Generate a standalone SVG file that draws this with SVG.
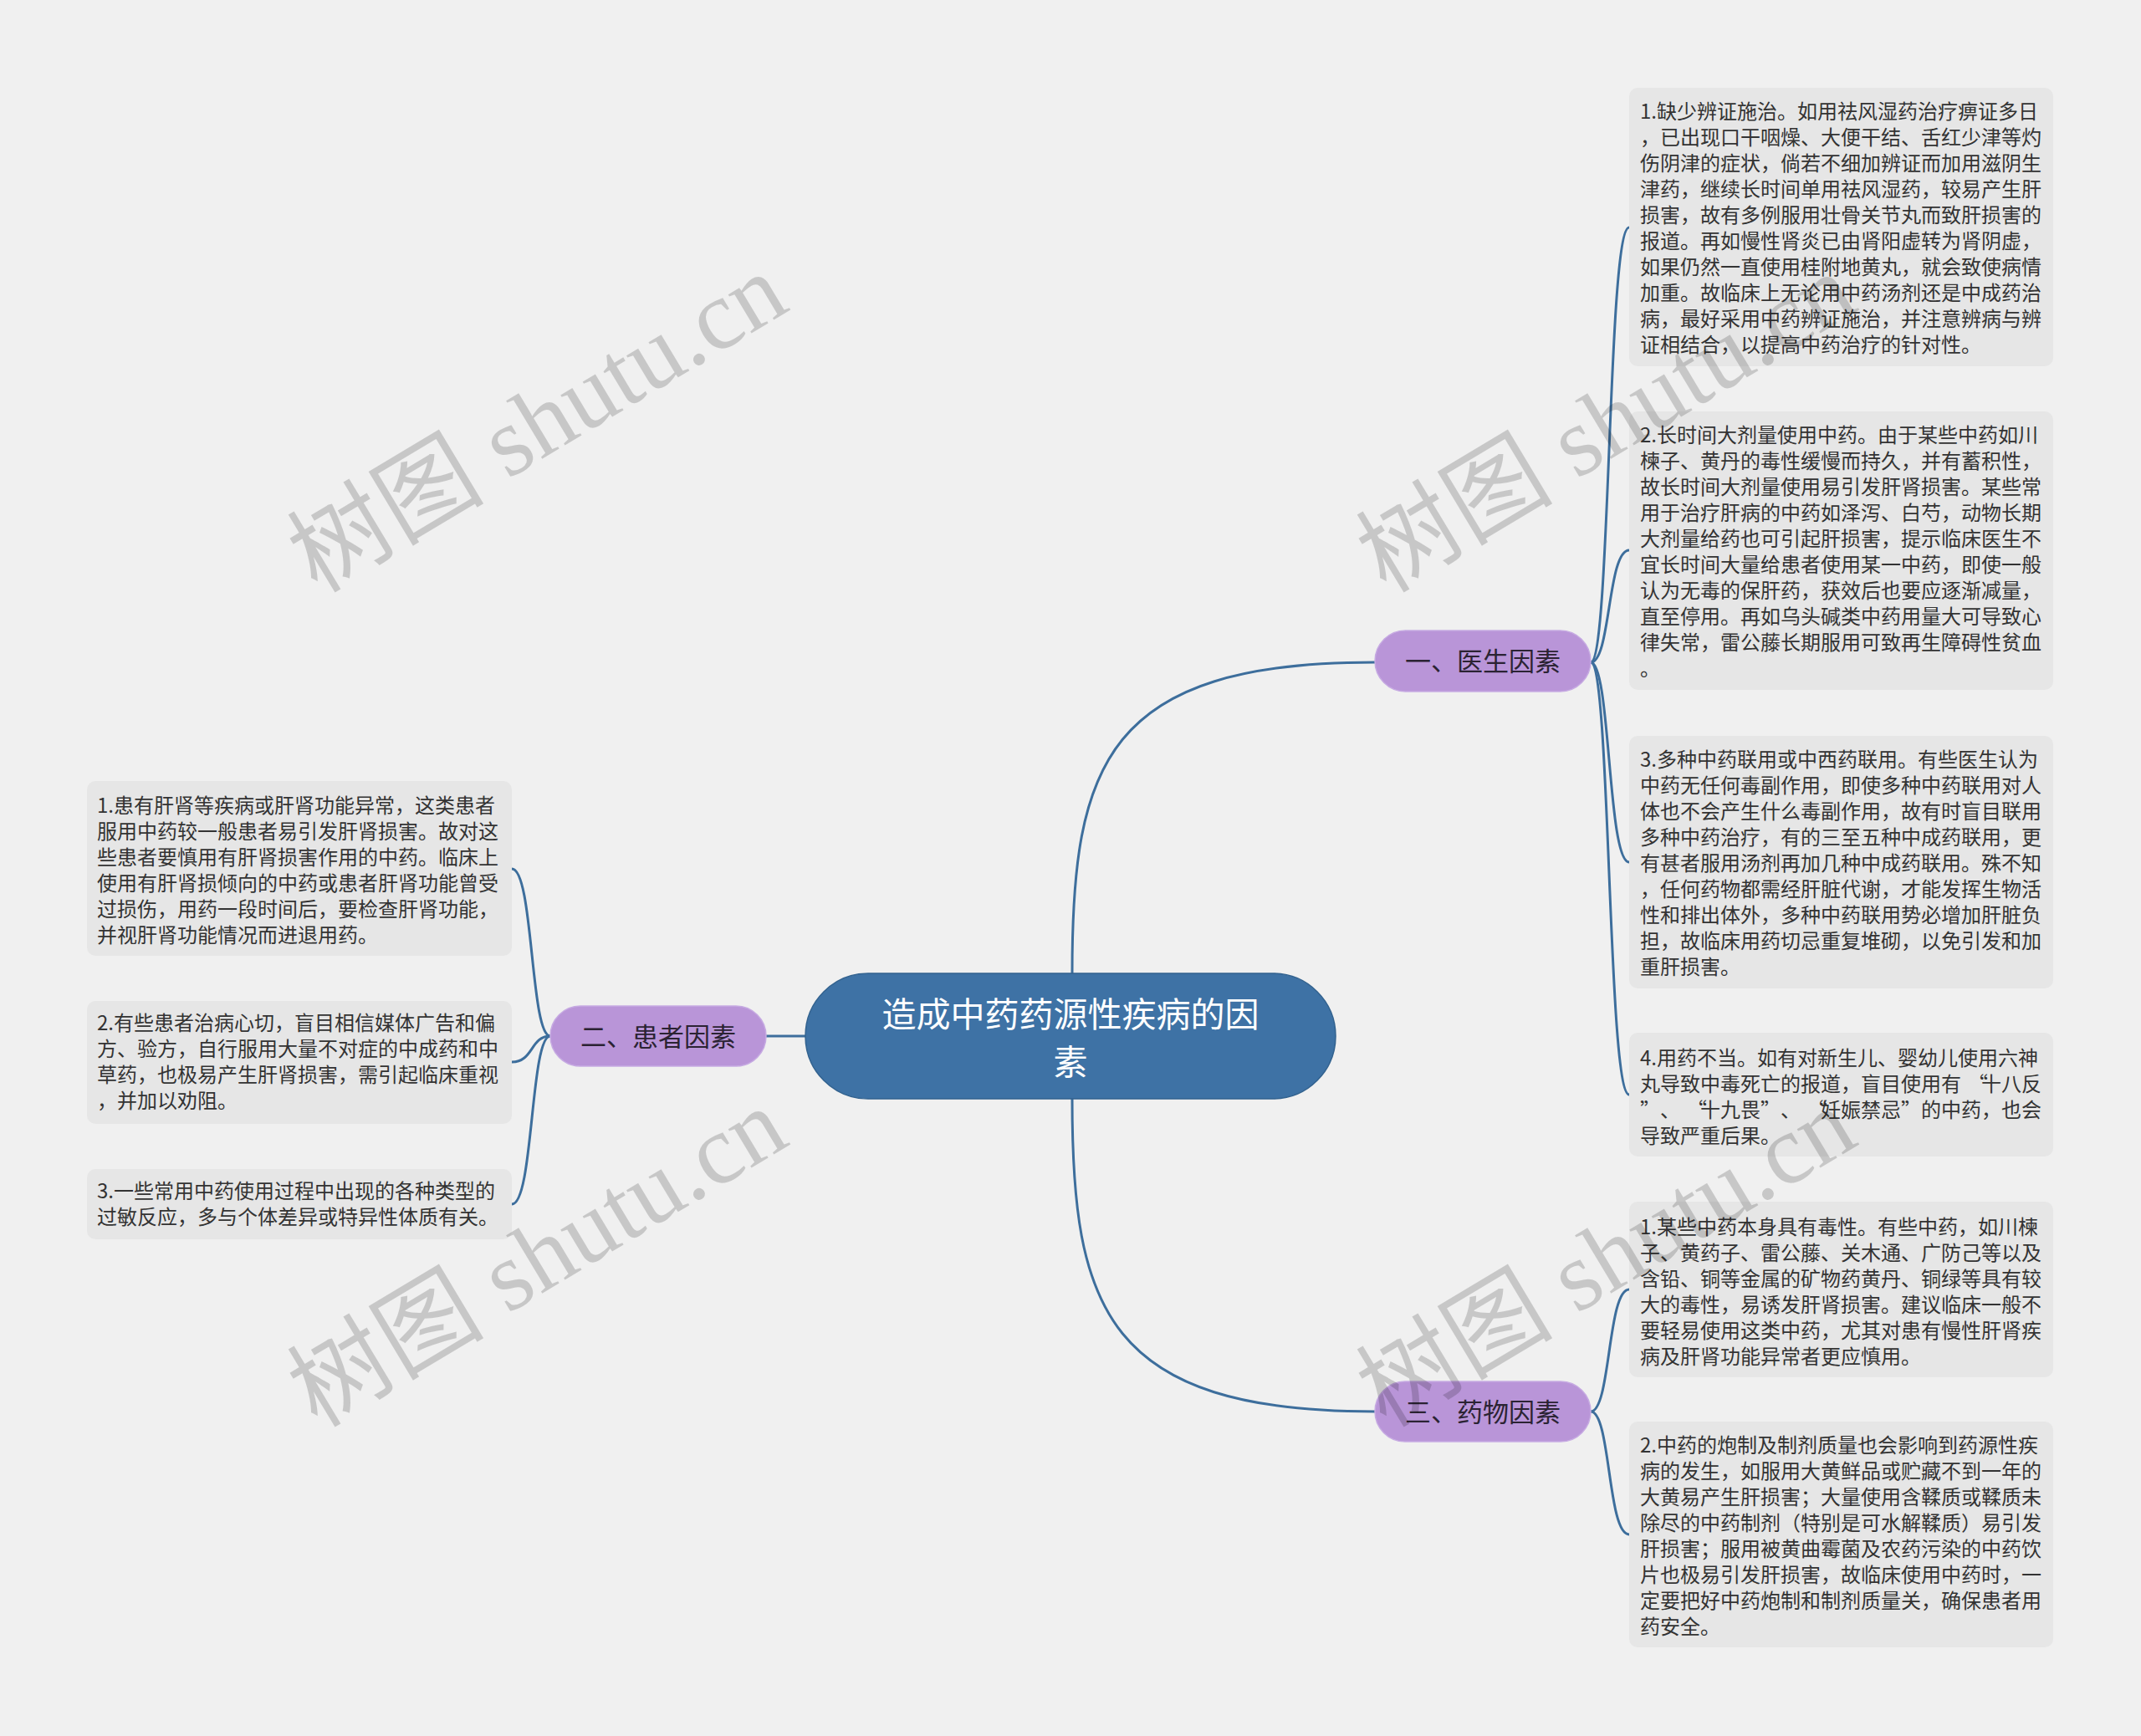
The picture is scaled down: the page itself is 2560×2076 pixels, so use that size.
<svg xmlns="http://www.w3.org/2000/svg" width="2560" height="2076" viewBox="0 0 2560 2076">
<style>
.bg{fill:#f0f0f0}
.leaf rect{fill:#e6e6e6}
.leaf text{font-family:"Noto Sans CJK SC","Noto Sans",sans-serif;font-size:24px;fill:#333333}
.branch rect{fill:#b995d8;stroke:#c6aae2;stroke-width:1.5}
.branch text{font-family:"Noto Sans CJK SC","Noto Sans",sans-serif;font-size:31px;fill:#2b2333;text-anchor:middle}
.root rect{fill:#3e72a5;stroke:#32628f;stroke-width:1.5}
.root text{font-family:"Noto Sans CJK SC","Noto Sans",sans-serif;font-size:41px;fill:#ffffff;text-anchor:middle}
.conn path{fill:none;stroke:#3d6e9c;stroke-width:3}
.wm text{font-family:"Liberation Serif","Noto Sans CJK SC",serif;font-size:118px;fill:#000000;fill-opacity:0.17;text-anchor:middle}
</style>
<rect class="bg" x="0" y="0" width="2560" height="2076"/>

<g id="connectors" class="conn">
<path d="M1282,1164 C1282,914 1322,792 1644,792"/>
<path d="M1282,1314 C1282,1564 1322,1688 1644,1688"/>
<path d="M963,1239 L916,1239"/>
<path d="M1902,792 C1926,792 1922,272 1948,272"/>
<path d="M1902,792 C1926,792 1922,658 1948,658"/>
<path d="M1902,792 C1926,792 1922,1031 1948,1031"/>
<path d="M1902,792 C1926,792 1922,1309 1948,1309"/>
<path d="M1902,1688 C1926,1688 1922,1542 1948,1542"/>
<path d="M1902,1688 C1926,1688 1922,1835 1948,1835"/>
<path d="M658,1239 C634,1239 638,1039 612,1039"/>
<path d="M658,1239 C634,1239 638,1270 612,1270"/>
<path d="M658,1239 C634,1239 638,1440 612,1440"/>
</g>

<g id="root" class="root">
<rect x="963" y="1164" width="634" height="150" rx="75" ry="75"/>
<text x="1280" y="1228">造成中药药源性疾病的因</text>
<text x="1280" y="1285">素</text>
</g>

<g id="branch1" class="branch">
<rect x="1644" y="754" width="258" height="73" rx="36.5" ry="36.5"/>
<text x="1773" y="802">一、医生因素</text>
</g>
<g id="branch2" class="branch">
<rect x="658" y="1203" width="258" height="72" rx="36" ry="36"/>
<text x="787" y="1251">二、患者因素</text>
</g>
<g id="branch3" class="branch">
<rect x="1644" y="1652" width="258" height="72" rx="36" ry="36"/>
<text x="1773" y="1700">三、药物因素</text>
</g>

<g id="leaf1-1" class="leaf">
<rect x="1948" y="105" width="507" height="333" rx="10" ry="10"/>
<text x="1961" y="142">
<tspan x="1961" dy="0">1.缺少辨证施治。如用祛风湿药治疗痹证多日</tspan>
<tspan x="1961" dy="31">，已出现口干咽燥、大便干结、舌红少津等灼</tspan>
<tspan x="1961" dy="31">伤阴津的症状，倘若不细加辨证而加用滋阴生</tspan>
<tspan x="1961" dy="31">津药，继续长时间单用祛风湿药，较易产生肝</tspan>
<tspan x="1961" dy="31">损害，故有多例服用壮骨关节丸而致肝损害的</tspan>
<tspan x="1961" dy="31">报道。再如慢性肾炎已由肾阳虚转为肾阴虚，</tspan>
<tspan x="1961" dy="31">如果仍然一直使用桂附地黄丸，就会致使病情</tspan>
<tspan x="1961" dy="31">加重。故临床上无论用中药汤剂还是中成药治</tspan>
<tspan x="1961" dy="31">病，最好采用中药辨证施治，并注意辨病与辨</tspan>
<tspan x="1961" dy="31">证相结合，以提高中药治疗的针对性。</tspan>
</text>
</g>

<g id="leaf1-2" class="leaf">
<rect x="1948" y="492" width="507" height="333" rx="10" ry="10"/>
<text x="1961" y="529">
<tspan x="1961" dy="0">2.长时间大剂量使用中药。由于某些中药如川</tspan>
<tspan x="1961" dy="31">楝子、黄丹的毒性缓慢而持久，并有蓄积性，</tspan>
<tspan x="1961" dy="31">故长时间大剂量使用易引发肝肾损害。某些常</tspan>
<tspan x="1961" dy="31">用于治疗肝病的中药如泽泻、白芍，动物长期</tspan>
<tspan x="1961" dy="31">大剂量给药也可引起肝损害，提示临床医生不</tspan>
<tspan x="1961" dy="31">宜长时间大量给患者使用某一中药，即使一般</tspan>
<tspan x="1961" dy="31">认为无毒的保肝药，获效后也要应逐渐减量，</tspan>
<tspan x="1961" dy="31">直至停用。再如乌头碱类中药用量大可导致心</tspan>
<tspan x="1961" dy="31">律失常，雷公藤长期服用可致再生障碍性贫血</tspan>
<tspan x="1961" dy="31">。</tspan>
</text>
</g>

<g id="leaf1-3" class="leaf">
<rect x="1948" y="880" width="507" height="302" rx="10" ry="10"/>
<text x="1961" y="917">
<tspan x="1961" dy="0">3.多种中药联用或中西药联用。有些医生认为</tspan>
<tspan x="1961" dy="31">中药无任何毒副作用，即使多种中药联用对人</tspan>
<tspan x="1961" dy="31">体也不会产生什么毒副作用，故有时盲目联用</tspan>
<tspan x="1961" dy="31">多种中药治疗，有的三至五种中成药联用，更</tspan>
<tspan x="1961" dy="31">有甚者服用汤剂再加几种中成药联用。殊不知</tspan>
<tspan x="1961" dy="31">，任何药物都需经肝脏代谢，才能发挥生物活</tspan>
<tspan x="1961" dy="31">性和排出体外，多种中药联用势必增加肝脏负</tspan>
<tspan x="1961" dy="31">担，故临床用药切忌重复堆砌，以免引发和加</tspan>
<tspan x="1961" dy="31">重肝损害。</tspan>
</text>
</g>

<g id="leaf1-4" class="leaf">
<rect x="1948" y="1235" width="507" height="148" rx="10" ry="10"/>
<text x="1961" y="1274">
<tspan x="1961" dy="0">4.用药不当。如有对新生儿、婴幼儿使用六神</tspan>
<tspan x="1961 1985 2009 2033 2057 2081 2105 2129 2153 2177 2201 2225 2249 2273 2297 2321 2353 2369 2393 2417" dy="31">丸导致中毒死亡的报道，盲目使用有“十八反</tspan>
<tspan x="1961 1985 2017 2033 2057 2081 2105 2129 2161 2177 2201 2225 2249 2273 2297 2321 2345 2369 2393 2417" dy="31">”、“十九畏”、“妊娠禁忌”的中药，也会</tspan>
<tspan x="1961" dy="31">导致严重后果。</tspan>
</text>
</g>

<g id="leaf3-1" class="leaf">
<rect x="1948" y="1437" width="507" height="210" rx="10" ry="10"/>
<text x="1961" y="1476">
<tspan x="1961" dy="0">1.某些中药本身具有毒性。有些中药，如川楝</tspan>
<tspan x="1961" dy="31">子、黄药子、雷公藤、关木通、广防己等以及</tspan>
<tspan x="1961" dy="31">含铅、铜等金属的矿物药黄丹、铜绿等具有较</tspan>
<tspan x="1961" dy="31">大的毒性，易诱发肝肾损害。建议临床一般不</tspan>
<tspan x="1961" dy="31">要轻易使用这类中药，尤其对患有慢性肝肾疾</tspan>
<tspan x="1961" dy="31">病及肝肾功能异常者更应慎用。</tspan>
</text>
</g>

<g id="leaf3-2" class="leaf">
<rect x="1948" y="1700" width="507" height="270" rx="10" ry="10"/>
<text x="1961" y="1737">
<tspan x="1961" dy="0">2.中药的炮制及制剂质量也会影响到药源性疾</tspan>
<tspan x="1961" dy="31">病的发生，如服用大黄鲜品或贮藏不到一年的</tspan>
<tspan x="1961" dy="31">大黄易产生肝损害；大量使用含鞣质或鞣质未</tspan>
<tspan x="1961" dy="31">除尽的中药制剂（特别是可水解鞣质）易引发</tspan>
<tspan x="1961" dy="31">肝损害；服用被黄曲霉菌及农药污染的中药饮</tspan>
<tspan x="1961" dy="31">片也极易引发肝损害，故临床使用中药时，一</tspan>
<tspan x="1961" dy="31">定要把好中药炮制和制剂质量关，确保患者用</tspan>
<tspan x="1961" dy="31">药安全。</tspan>
</text>
</g>

<g id="leaf2-1" class="leaf">
<rect x="104" y="934" width="508" height="209" rx="10" ry="10"/>
<text x="116" y="972">
<tspan x="116" dy="0">1.患有肝肾等疾病或肝肾功能异常，这类患者</tspan>
<tspan x="116" dy="31">服用中药较一般患者易引发肝肾损害。故对这</tspan>
<tspan x="116" dy="31">些患者要慎用有肝肾损害作用的中药。临床上</tspan>
<tspan x="116" dy="31">使用有肝肾损倾向的中药或患者肝肾功能曾受</tspan>
<tspan x="116" dy="31">过损伤，用药一段时间后，要检查肝肾功能，</tspan>
<tspan x="116" dy="31">并视肝肾功能情况而进退用药。</tspan>
</text>
</g>

<g id="leaf2-2" class="leaf">
<rect x="104" y="1197" width="508" height="147" rx="10" ry="10"/>
<text x="116" y="1232">
<tspan x="116" dy="0">2.有些患者治病心切，盲目相信媒体广告和偏</tspan>
<tspan x="116" dy="31">方、验方，自行服用大量不对症的中成药和中</tspan>
<tspan x="116" dy="31">草药，也极易产生肝肾损害，需引起临床重视</tspan>
<tspan x="116" dy="31">，并加以劝阻。</tspan>
</text>
</g>

<g id="leaf2-3" class="leaf">
<rect x="104" y="1398" width="508" height="84" rx="10" ry="10"/>
<text x="116" y="1433">
<tspan x="116" dy="0">3.一些常用中药使用过程中出现的各种类型的</tspan>
<tspan x="116" dy="31">过敏反应，多与个体差异或特异性体质有关。</tspan>
</text>
</g>

<g id="watermarks" class="wm">
<text transform="translate(663,540) rotate(-31)">树图 shutu.cn</text>
<text transform="translate(1941,540) rotate(-31)">树图 shutu.cn</text>
<text transform="translate(663,1538) rotate(-31)">树图 shutu.cn</text>
<text transform="translate(1941,1538) rotate(-31)">树图 shutu.cn</text>
</g>
</svg>
